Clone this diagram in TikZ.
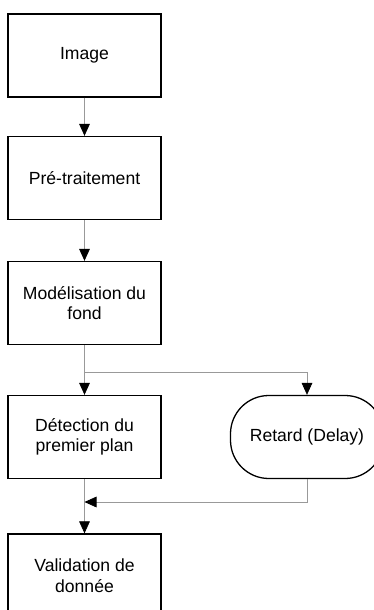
\documentclass[tikz,border=0pt]{standalone}
\usepackage{fontspec}
\setmainfont{Liberation Sans}
\usetikzlibrary{arrows.meta}

\tikzset{
  box/.style={draw=black, line width=1.1pt, minimum width=4.59cm, minimum height=2.49cm,
    align=center, font=\fontsize{15}{17.5}\selectfont},
  roundbox/.style={box, rounded corners=1.15cm},
  flow/.style={draw=gray!80, line width=0.6pt, -{Triangle[color=black, width=0.32cm, length=0.36cm]}},
}

\begin{document}
\begin{tikzpicture} [x=0.03cm, y=-0.03cm]

\useasboundingbox (0,0) rectangle (374,610);

\node[box] (image) at (84.5,55.5) {Image};
\node[box] (pretrait) at (84.5,178) {Pré-traitement};
\node[box] (modele) at (84.5,303) {Modélisation du\\fond};
\node[box] (detect) at (84.5,437) {Détection du\\premier plan};
\node[roundbox] (retard) at (307,437) {Retard (Delay)};
\node[box] (valid) at (84.5,575.5) {Validation de\\donnée};

\coordinate (split) at (84.5,372);
\coordinate (join) at (84.5,502);

\draw[flow] (image) -- (pretrait);
\draw[flow] (pretrait) -- (modele);
\draw[flow] (modele) -- (detect);
\draw[flow] (split) -| (retard.north);
\draw[flow] (detect) -- (valid);
\draw[flow] (retard.south) |- (join);

\end{tikzpicture}
\end{document}
